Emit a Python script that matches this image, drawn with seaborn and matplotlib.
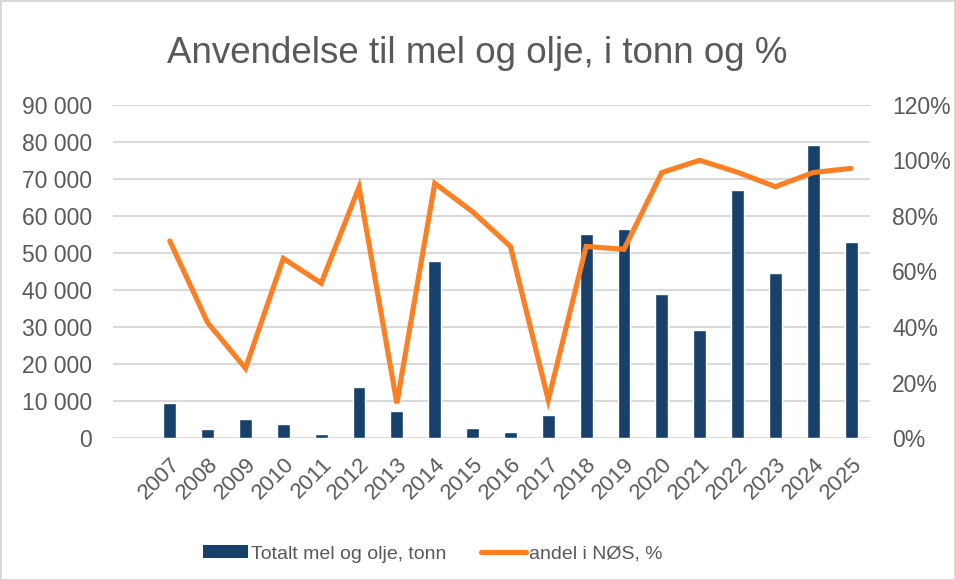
import numpy as np
import pandas as pd
import matplotlib
matplotlib.use('Agg')
import matplotlib.pyplot as plt
import seaborn as sns
from matplotlib.ticker import FuncFormatter
from matplotlib.patches import Patch
from matplotlib.lines import Line2D

# ── Data ──────────────────────────────────────────────────────
years = ['2007', '2008', '2009', '2010', '2011', '2012', '2013', '2014', '2015', '2016',
         '2017', '2018', '2019', '2020', '2021', '2022', '2023', '2024', '2025']
tonn = [9500, 2500, 5200, 3900, 1200, 13900, 7400, 47900, 2800, 1700,
        6300, 55200, 56500, 39000, 29300, 67100, 44600, 79000, 53000]
andel_nos = [71, 41.6, 25.2, 64.7, 55.8, 90.3, 12.6, 91.7, 81.5, 69,
             13.8, 69, 68, 95.6, 100, 95.7, 90.5, 95.6, 97.1]

bar_label = 'Totalt mel og olje, tonn'
line_label = 'andel i NØS, %'
title = 'Anvendelse til mel og olje, i tonn og %'

df = pd.DataFrame({'year': years, 'tonn': tonn, 'andel': andel_nos})
df['pos'] = np.arange(len(df))

# ── Style ─────────────────────────────────────────────────────
sns.set_theme(style='white')
plt.rcParams['font.family'] = ['Liberation Sans', 'DejaVu Sans']
text_col = '#595959'
bar_col = '#17406b'
line_col = '#fd7f23'
grid_col = '#d9d9d9'

fig = plt.figure(figsize=(9.55, 5.8), dpi=100)
fig.patch.set_facecolor('white')
fig.patch.set_edgecolor(grid_col)
fig.patch.set_linewidth(2)
ax = fig.add_axes([113 / 955, 1 - 438.3 / 580, (870 - 113) / 955, (438.3 - 104.7) / 580])

# bars: total tonnes
sns.barplot(data=df, x='year', y='tonn', color=bar_col, width=0.34,
            saturation=1, ax=ax, zorder=3)
ax.set_xlim(-1.5, 18.5)
ax.set_ylim(0, 90000)
ax.set_yticks(np.arange(0, 90001, 10000))
ax.yaxis.set_major_formatter(FuncFormatter(lambda v, p: f'{int(v):,}'.replace(',', ' ')))
ax.grid(axis='y', color=grid_col, linewidth=1.5, zorder=0)
ax.set_axisbelow(True)
for s in ax.spines.values():
    s.set_visible(False)
ax.set_xlabel('')
ax.set_ylabel('')
ax.tick_params(axis='y', length=0, labelsize=16.5, labelcolor=text_col, pad=15)
ax.tick_params(axis='x', length=0, labelsize=16, labelcolor=text_col, pad=11)
plt.setp(ax.get_xticklabels(), rotation=45, ha='right', rotation_mode='anchor')

# line: share on right axis
ax2 = ax.twinx()
sns.lineplot(data=df, x='pos', y='andel', color=line_col, linewidth=3.7,
             ax=ax2, solid_capstyle='round', solid_joinstyle='miter')
ax2.set_ylim(0, 120)
ax2.set_xlim(-1.5, 18.5)
ax2.set_yticks(np.arange(0, 121, 20))
ax2.yaxis.set_major_formatter(FuncFormatter(lambda v, p: f'{int(v)}%'))
for s in ax2.spines.values():
    s.set_visible(False)
ax2.set_ylabel('')
ax2.set_xlabel('')
ax2.tick_params(axis='y', length=0, labelsize=16.5, labelcolor=text_col, pad=16)

fig.text(0.5, 0.908, title, ha='center', va='center', fontsize=26.5, color=text_col)

handles = [Patch(facecolor=bar_col, edgecolor='none'),
           Line2D([0], [0], color=line_col, linewidth=3.7, solid_capstyle='round')]
fig.legend(handles, [bar_label, line_label], loc='center', bbox_to_anchor=(433 / 955, 1 - 554 / 580),
           ncol=2, frameon=False, fontsize=14, labelcolor=text_col,
           handlelength=2.3, handleheight=0.6, handletextpad=0.15, columnspacing=1.8)

fig.savefig('out.png', dpi=100, facecolor='white', edgecolor=grid_col)
